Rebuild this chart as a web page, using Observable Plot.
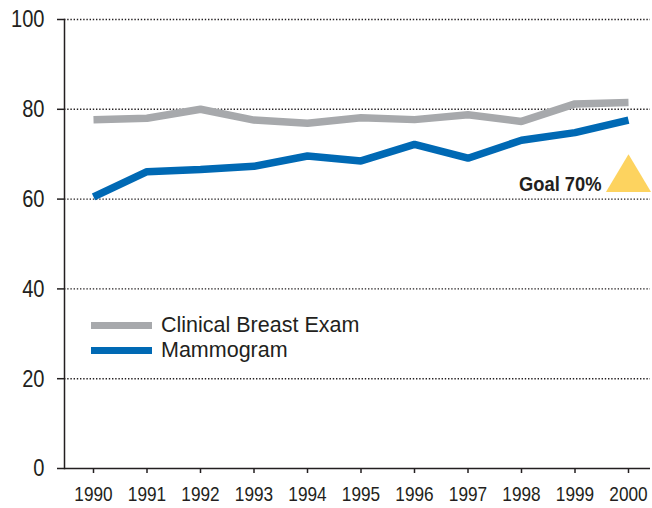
<!DOCTYPE html>
<html>
<head>
<meta charset="utf-8">
<script src="https://cdn.jsdelivr.net/npm/d3@7"></script>
<script src="https://cdn.jsdelivr.net/npm/@observablehq/plot@0.6"></script>
<style>
  html, body { margin: 0; padding: 0; background: #fff; }
  #wrap { position: relative; width: 652px; height: 508px; }
  .legend { position: absolute; left: 91px; font-family: "Liberation Sans", Arial, sans-serif; font-size: 21.5px; color: #231f20; }
  .legend div { position: relative; height: 25px; line-height: 25px; white-space: nowrap; }
  .legend .sw { position: absolute; left: 0; top: 9px; width: 61px; height: 7px; }
  .legend .lb { position: absolute; left: 70px; top: 0; }
</style>
</head>
<body>
<div id="wrap"></div>
<script>
const years = [1990, 1991, 1992, 1993, 1994, 1995, 1996, 1997, 1998, 1999, 2000];
const clinicalBreastExam = [77.7, 78.0, 80.0, 77.6, 76.9, 78.1, 77.7, 78.8, 77.3, 81.2, 81.5];
const mammogram = [60.5, 66.1, 66.6, 67.3, 69.6, 68.5, 72.2, 69.1, 73.1, 74.8, 77.6];
const seriesNames = ["Clinical Breast Exam", "Mammogram"];
const seriesColors = ["#a7a9ac", "#0069b4"];
const yTicks = [0, 20, 40, 60, 80, 100];
const goalYear = 2000;
const goalValue = 70;
const goalLabel = "Goal 70%";

const rows = [];
years.forEach((yr, i) => {
  rows.push({year: yr, value: clinicalBreastExam[i], series: seriesNames[0]});
  rows.push({year: yr, value: mammogram[i], series: seriesNames[1]});
});

const apexTriangle = {
  draw(context, size) {
    const s = Math.sqrt(size);
    const h = 1.31 * s, w = 0.78 * s;
    context.moveTo(0, 0);
    context.lineTo(w, h);
    context.lineTo(-w, h);
    context.closePath();
  }
};

const ink = "#231f20";
const sans = "'Liberation Sans', Arial, sans-serif";

const chart = Plot.plot({
  width: 652,
  height: 508,
  marginLeft: 64,
  marginRight: 2,
  marginTop: 19,
  marginBottom: 40,
  style: {fontFamily: sans, color: ink, background: "#fff"},
  x: {domain: [1990, 2000], range: [93, 628]},
  y: {domain: [0, 100]},
  color: {domain: seriesNames, range: seriesColors},
  marks: [
    Plot.ruleY(yTicks.filter(d => d > 0), {stroke: ink, strokeWidth: 1.4, strokeDasharray: "1.4,1.8"}),
    Plot.axisY({ticks: yTicks, tickSize: 7, tickPadding: 13, fontSize: 24.5, fontFamily: sans, stroke: ink, strokeWidth: 1.5, label: null, tickFormat: "d", className: "narrow"}),
    Plot.axisX({ticks: years, tickSize: 5, tickPadding: 13, fontSize: 21, fontFamily: sans, stroke: ink, strokeWidth: 1.5, label: null, tickFormat: "d", className: "narrow"}),
    Plot.frame({anchor: "left", stroke: ink, strokeWidth: 1.5}),
    Plot.ruleY([0], {stroke: ink, strokeWidth: 1.5}),
    Plot.line(rows, {x: "year", y: "value", z: "series", stroke: "series", strokeWidth: 7.5, strokeLinejoin: "miter", strokeLinecap: "butt"}),
    Plot.dot([{year: goalYear, value: goalValue}], {x: "year", y: "value", symbol: apexTriangle, r: 16.3, fill: "#fdd35f", stroke: "none"}),
    Plot.text([{year: goalYear, value: goalValue, label: goalLabel}], {x: "year", y: "value", text: "label", textAnchor: "end", lineAnchor: "middle", dx: -27, dy: 31, fontSize: 19.5, fontWeight: "bold", fontFamily: sans, fill: ink, className: "goal"})
  ]
});

const wrap = document.getElementById("wrap");
wrap.appendChild(chart);

// emulate a condensed face by compressing glyph widths
function condense(selector, factor) {
  chart.querySelectorAll(selector).forEach(el => {
    const len = el.getComputedTextLength();
    if (len > 0) {
      el.setAttribute("textLength", (len * factor).toFixed(2));
      el.setAttribute("lengthAdjust", "spacingAndGlyphs");
    }
  });
}
condense(".narrow text", 0.82);
condense(".goal text", 0.94);

const legend = document.createElement("div");
legend.className = "legend";
legend.style.top = "313px";
seriesNames.forEach((name, i) => {
  const row = document.createElement("div");
  const sw = document.createElement("span");
  sw.className = "sw";
  sw.style.background = seriesColors[i];
  const lb = document.createElement("span");
  lb.className = "lb";
  lb.textContent = name;
  row.appendChild(sw);
  row.appendChild(lb);
  legend.appendChild(row);
});
wrap.appendChild(legend);
</script>
</body>
</html>
